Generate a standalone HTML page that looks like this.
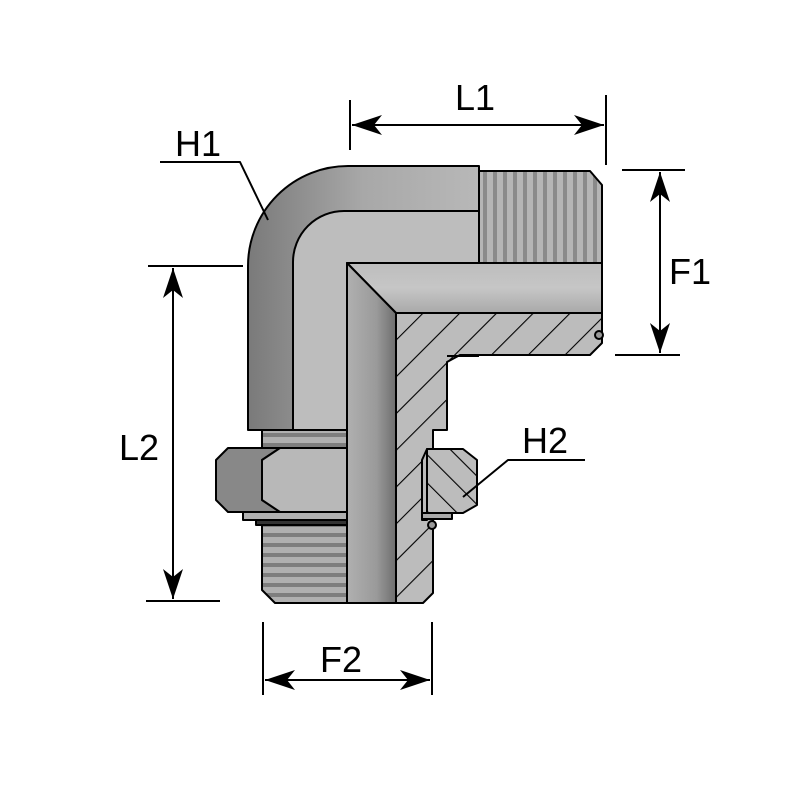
<!DOCTYPE html>
<html><head><style>body{margin:0;background:#fff}svg{display:block}</style></head><body>
<svg width="800" height="800" viewBox="0 0 800 800" xmlns="http://www.w3.org/2000/svg">
<defs>
<linearGradient id="gv" x1="0" x2="1" y1="0" y2="0"><stop offset="0" stop-color="#7a7a7a"/><stop offset="0.5" stop-color="#a8a8a8"/><stop offset="1" stop-color="#b8b8b8"/></linearGradient>
<linearGradient id="gb" x1="0" x2="1" y1="0" y2="0"><stop offset="0" stop-color="#b0b0b0"/><stop offset="0.6" stop-color="#9a9a9a"/><stop offset="1" stop-color="#6e6e6e"/></linearGradient>
<linearGradient id="gh" x1="0" x2="0" y1="0" y2="1"><stop offset="0" stop-color="#bdbdbd"/><stop offset="0.5" stop-color="#c6c6c6"/><stop offset="1" stop-color="#a9a9a9"/></linearGradient>
<pattern id="tv" width="10" height="10" patternUnits="userSpaceOnUse"><rect width="10" height="10" fill="#b5b5b5"/><rect x="3" width="4" height="10" fill="#8a8a8a"/></pattern>
<pattern id="th" width="10" height="10" patternUnits="userSpaceOnUse"><rect width="10" height="10" fill="#b0b0b0"/><rect y="3" width="10" height="4" fill="#7e7e7e"/></pattern>
<pattern id="hat" width="26" height="26" patternUnits="userSpaceOnUse" patternTransform="rotate(45)"><rect width="26" height="26" fill="#bcbcbc"/><line x1="0" y1="0" x2="0" y2="26" stroke="#000" stroke-width="2.2"/></pattern>
<pattern id="hat2" width="20" height="20" patternUnits="userSpaceOnUse" patternTransform="rotate(-45)"><rect width="20" height="20" fill="#bcbcbc"/><line x1="0" y1="0" x2="0" y2="20" stroke="#000" stroke-width="2.2"/></pattern>
<marker id="a" viewBox="0 0 30 20" refX="30" refY="10" markerWidth="30" markerHeight="20" markerUnits="userSpaceOnUse" orient="auto-start-reverse"><path d="M0,0 L30,10 L0,20 L8,10z" fill="#000"/></marker>
</defs>
<g stroke="#000" stroke-width="2" stroke-linejoin="round">
<rect x="262" y="428" width="85" height="20" fill="url(#th)"/>
<path d="M248,430 L248,266 A100,100 0 0 1 348,166 L479,166 L479,263 L347,263 L347,430 Z" fill="url(#gv)"/>
<path d="M293,430 L293,262 A51,51 0 0 1 344,211 L479,211 L479,263 L347,263 L347,430 Z" fill="#bdbdbd"/>
<path d="M479,171 L590,171 L602,185 L602,263 L479,263 Z" fill="url(#tv)"/>
<path d="M347,263 L602,263 L602,313 L396,313 Z" fill="url(#gh)"/>
<path d="M347,263 L396,313 L396,603 L347,603 Z" fill="url(#gb)"/>
<path d="M396,313 L602,313 L602,343 L590,355 L460,355 L447,362 L447,430 L433,430 L433,593 L423,603 L396,603 Z" fill="url(#hat)"/>
<line x1="447" y1="356" x2="479" y2="356"/>
<path d="M216,460 L228,448 L280,448 L262,460 L262,500 L280,512 L228,512 L216,500 Z" fill="#888"/>
<path d="M280,448 L347,448 L347,512 L280,512 L262,500 L262,460 Z" fill="#b8b8b8"/>
<rect x="243" y="512" width="104" height="8" fill="#b0b0b0"/>
<rect x="256" y="520" width="91" height="5" fill="#333"/>
<path d="M262,525 L347,525 L347,603 L275,603 L262,590 Z" fill="url(#th)"/>
<path d="M427,449 L463,449 L477,460 L477,505 L463,513 L427,513 Z" fill="url(#hat2)"/>
<path d="M422,460 L427,449 L427,520 L422,520 Z" fill="#bbb"/>
<rect x="422" y="513" width="30" height="6" fill="#aaa"/>
<circle cx="432" cy="525" r="4" fill="#999"/>
<circle cx="599" cy="335" r="4" fill="#999"/>
<g fill="none">
<line x1="350" y1="100" x2="350" y2="150"/>
<line x1="606" y1="95" x2="606" y2="165"/>
<line x1="352" y1="125" x2="604" y2="125" marker-start="url(#a)" marker-end="url(#a)"/>
<line x1="622" y1="170" x2="685" y2="170"/>
<line x1="615" y1="355" x2="680" y2="355"/>
<line x1="660" y1="172" x2="660" y2="353" marker-start="url(#a)" marker-end="url(#a)"/>
<line x1="148" y1="266" x2="243" y2="266"/>
<line x1="146" y1="601" x2="220" y2="601"/>
<line x1="173" y1="268" x2="173" y2="599" marker-start="url(#a)" marker-end="url(#a)"/>
<line x1="263" y1="622" x2="263" y2="695"/>
<line x1="432" y1="622" x2="432" y2="695"/>
<line x1="265" y1="680" x2="430" y2="680" marker-start="url(#a)" marker-end="url(#a)"/>
<polyline points="160,162 240,162 268,220"/>
<polyline points="585,460 508,460 463,497"/>
</g>
</g>
<g font-family="Liberation Sans, sans-serif" font-size="36" fill="#000" text-anchor="middle">
<text x="475" y="110">L1</text>
<text x="690" y="284">F1</text>
<text x="139" y="460">L2</text>
<text x="341" y="672">F2</text>
<text x="198" y="156">H1</text>
<text x="545" y="453">H2</text>
</g>
</svg>
</body></html>
